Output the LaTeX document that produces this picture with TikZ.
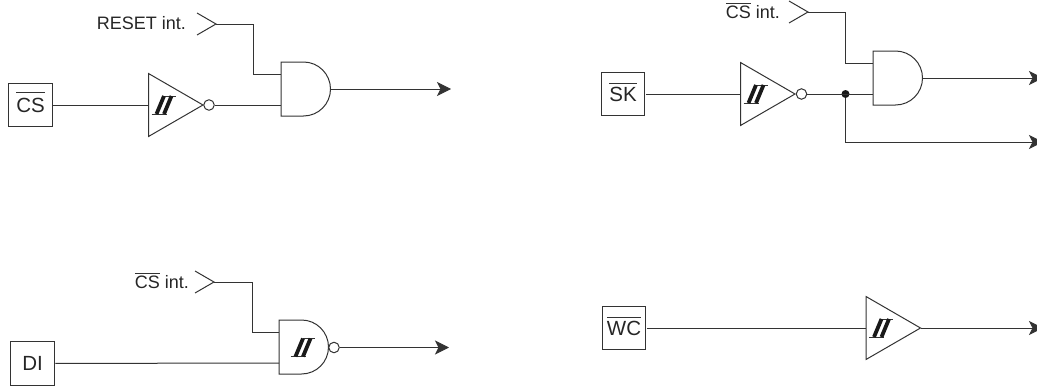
\documentclass[tikz,border=0pt]{standalone}
\usepackage{fontspec}
\setmainfont{Liberation Sans}
\usetikzlibrary{arrows.meta}

\newcommand{\barred}[2][3pt]{\leavevmode\setbox0=\hbox{#2}\rlap{\smash{\raisebox{\dimexpr\ht0+#1\relax}{\color{wire}\rule{\wd0}{0.7pt}}}}\box0\relax}

\definecolor{wire}{HTML}{333333}

\tikzset{
    wireline/.style={draw=wire, line width=1pt},
    sig/.style={wireline, -{Stealth[length=14pt,width=14pt,inset=3.5pt]}},
    padbox/.style={wireline, minimum size=43.5pt, inner sep=0pt, outer sep=1.2pt, font=\fontsize{20.5}{22}\selectfont, text=black!85},
    sigtext/.style={inner sep=0pt, font=\fontsize{18}{20}\selectfont, text=black!85, anchor=east},
    bubble/.style={wireline, circle, minimum size=10.5pt, inner sep=0pt, fill=white},
    joint/.style={circle, fill=black!90, minimum size=8pt, inner sep=0pt},
    schmitt/.pic={
        \draw[line width=0.8pt, wire] (-12,9) -- (3,9) (0,-9) -- (12,-9);
        \draw[line width=3.8pt, black!90] (0.5,-9) -- (-7,9) (8,-9) -- (0.5,9);
    },
    buffer/.pic={
        \draw[wireline] (0,-31.5) -- (54.5,0) -- (0,31.5) -- cycle;
        \coordinate (-in) at (0,0);
        \coordinate (-out) at (54.5,0);
        \pic at (15,0) {schmitt};
    },
    andgate/.pic={
        \draw[wireline] (22.5,-27) -- (0,-27) -- (0,27) -- (22.5,27) arc[start angle=-90, end angle=90, radius=27pt];
        \coordinate (-a) at (0,-14.5);
        \coordinate (-b) at (0,16);
        \coordinate (-out) at (49.5,0);
    },
    chevron/.pic={
        \draw[wireline] (-19,-11) -- (0,0) -- (-19,11);
        \coordinate (-tip) at (0,0);
    }
}

\begin{document}
\begin{tikzpicture}[x=1pt, y=-1pt]
    \useasboundingbox (0,0) rectangle (1037,388);
    \clip (0,0) rectangle (1037,388);

    % CS input
    \node[padbox] (cspad) at (30.5,105) {\barred[5.5pt]{CS}};
    \pic (csbuf) at (148.5,105) {buffer};
    \node[bubble] (csinv) at (209,105) {};
    \pic (csand) at (281,89) {andgate};
    \pic (csrst) at (216,24) {chevron};
    \node[sigtext] (csrsttext) at (186,23.5) {RESET int.};
    \coordinate (csout) at (451,89);
    \draw[wireline] (cspad) -- (csbuf-in);
    \draw[wireline] (csinv) -- (csand-b);
    \draw[wireline] (csrst-tip) -| (253,74.5) -- (csand-a);
    \draw[sig] (csand-out) -- (csout);

    % SK input
    \node[padbox] (skpad) at (623,94) {\barred[3.5pt]{SK}};
    \pic (skbuf) at (740.5,94) {buffer};
    \node[bubble] (skinv) at (801.5,94) {};
    \pic (skand) at (873,78) {andgate};
    \pic (skcs) at (808,12) {chevron};
    \node[sigtext] (skcstext) at (780,12.5) {\barred[3pt]{CS} int.};
    \node[joint] (skdot) at (845.5,94) {};
    \coordinate (skout) at (1043,78);
    \coordinate (skoutb) at (1043,142);
    \draw[wireline] (skpad) -- (skbuf-in);
    \draw[wireline] (skinv) -- (skand-b);
    \draw[wireline] (skcs-tip) -| (845.5,63.5) -- (skand-a);
    \draw[sig] (skand-out) -- (skout);
    \draw[sig] (skdot) |- (skoutb);

    % DI input
    \node[padbox] (dipad) at (32.5,363.5) {DI};
    \pic (diand) at (279,347) {andgate};
    \pic at (302.5,347.5) {schmitt};
    \node[bubble] (diinv) at (334,347.5) {};
    \pic (dics) at (214,282) {chevron};
    \node[sigtext] (dicstext) at (189,282.5) {\barred[3pt]{CS} int.};
    \coordinate (diout) at (449,347.5);
    \draw[wireline] (dipad) -- (diand-b);
    \draw[wireline] (dics-tip) -| (252,332.5) -- (diand-a);
    \draw[sig] (diinv) -- (diout);

    % WC input
    \node[padbox] (wcpad) at (624,328) {\barred[3.5pt]{WC}};
    \pic (wcbuf) at (866,328) {buffer};
    \coordinate (wcout) at (1043,328);
    \draw[wireline] (wcpad) -- (wcbuf-in);
    \draw[sig] (wcbuf-out) -- (wcout);
\end{tikzpicture}
\end{document}
